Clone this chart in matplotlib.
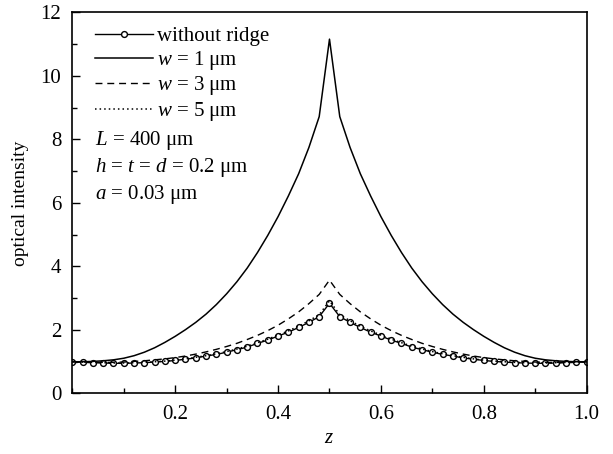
import numpy as np
import matplotlib.pyplot as plt
from matplotlib.ticker import MultipleLocator, FixedLocator

plt.rcParams['font.family'] = ['Liberation Serif', 'DejaVu Serif']
plt.rcParams['mathtext.fontset'] = 'custom'
plt.rcParams['mathtext.rm'] = 'Liberation Serif'
plt.rcParams['mathtext.it'] = 'Liberation Serif:italic'

# ================= data =================
z = np.round(np.arange(0, 51) * 0.02, 2)

no_ridge = [1.00, 0.98, 0.97, 0.96, 0.95, 0.95, 0.96, 0.97, 0.99, 1.01,
            1.04, 1.08, 1.12, 1.18, 1.23, 1.30, 1.38, 1.46, 1.58, 1.68,
            1.81, 1.93, 2.08, 2.24, 2.42, 2.84, 2.42, 2.24, 2.08, 1.93,
            1.81, 1.68, 1.58, 1.46, 1.38, 1.30, 1.23, 1.18, 1.12, 1.08,
            1.04, 1.01, 0.99, 0.97, 0.96, 0.95, 0.95, 0.96, 0.97, 0.98,
            1.00]

w1 = [1.00, 1.00, 1.01, 1.03, 1.06, 1.11, 1.19, 1.30, 1.44, 1.61,
      1.80, 2.01, 2.24, 2.50, 2.80, 3.14, 3.52, 3.95, 4.44, 4.98,
      5.57, 6.22, 6.92, 7.75, 8.72, 11.16, 8.72, 7.75, 6.92, 6.22,
      5.57, 4.98, 4.44, 3.95, 3.52, 3.14, 2.80, 2.50, 2.24, 2.01,
      1.80, 1.61, 1.44, 1.30, 1.19, 1.11, 1.06, 1.03, 1.01, 1.00,
      1.00]

w3 = [1.00, 0.99, 0.98, 0.98, 0.98, 0.99, 1.01, 1.03, 1.06, 1.09,
      1.13, 1.18, 1.24, 1.31, 1.39, 1.48, 1.58, 1.70, 1.83, 1.98,
      2.15, 2.35, 2.57, 2.83, 3.12, 3.57, 3.12, 2.83, 2.57, 2.35,
      2.15, 1.98, 1.83, 1.70, 1.58, 1.48, 1.39, 1.31, 1.24, 1.18,
      1.13, 1.09, 1.06, 1.03, 1.01, 0.99, 0.98, 0.98, 0.98, 0.99,
      1.00]

w5 = [1.00, 0.99, 0.98, 0.97, 0.96, 0.96, 0.97, 0.98, 1.00, 1.02,
      1.05, 1.09, 1.14, 1.19, 1.25, 1.32, 1.40, 1.49, 1.60, 1.71,
      1.84, 1.97, 2.12, 2.29, 2.48, 2.92, 2.48, 2.29, 2.12, 1.97,
      1.84, 1.71, 1.60, 1.49, 1.40, 1.32, 1.25, 1.19, 1.14, 1.09,
      1.05, 1.02, 1.00, 0.98, 0.97, 0.96, 0.96, 0.97, 0.98, 0.99,
      1.00]

x_ticks = [0.2, 0.4, 0.6, 0.8, 1.0]
x_ticklabels = ['0.2', '0.4', '0.6', '0.8', '1.0']
y_ticks = [0, 2, 4, 6, 8, 10, 12]

# ================= figure =================
fig = plt.figure(figsize=(6.13, 4.54), dpi=100)
ax = fig.add_axes([0.118, 0.1333, 0.839, 0.8392])

ax.plot(z, no_ridge, '-', color='black', lw=1.0, marker='o', ms=4.2,
        mfc='white', mec='black', mew=1.0, label='without ridge')
ax.plot(z, w1, '-', color='black', lw=1.1, label=r'$w$ = 1 μm')
ax.plot(z, w3, color='black', lw=1.0, linestyle=(0, (5, 3.5)),
        label=r'$w$ = 3 μm')
ax.plot(z, w5, color='black', lw=1.1, linestyle=(0, (1, 2)),
        label=r'$w$ = 5 μm')

ax.set_xlim(0, 1.0)
ax.set_ylim(0, 12)
ax.xaxis.set_major_locator(FixedLocator(x_ticks))
ax.set_xticklabels(x_ticklabels)
ax.xaxis.set_minor_locator(MultipleLocator(0.1))
ax.yaxis.set_major_locator(FixedLocator(y_ticks))
ax.yaxis.set_minor_locator(MultipleLocator(1))
ax.tick_params(which='both', direction='in', labelsize=15, top=False,
               right=False, width=1.0)
ax.tick_params(which='major', length=6, pad=8)
ax.tick_params(which='minor', length=3.5)
for s in ax.spines.values():
    s.set_linewidth(1.2)

ax.set_xlabel(r'$z$', fontsize=15, labelpad=4)
ax.set_ylabel('optical intensity', fontsize=14, labelpad=8)

ax.legend(loc='upper left', bbox_to_anchor=(0.02, 0.995), frameon=False,
          fontsize=15, handlelength=2.8, handletextpad=0.15,
          labelspacing=0.12, numpoints=1, borderaxespad=0.2)

ax.text(0.045, 0.695, r'$L$ = 400 μm' + '\n' + r'$h$ = $t$ = $d$ = 0.2 μm'
        + '\n' + r'$a$ = 0.03 μm', transform=ax.transAxes, fontsize=15,
        va='top', ha='left', linespacing=1.25)

fig.savefig('out.png', dpi=100)
